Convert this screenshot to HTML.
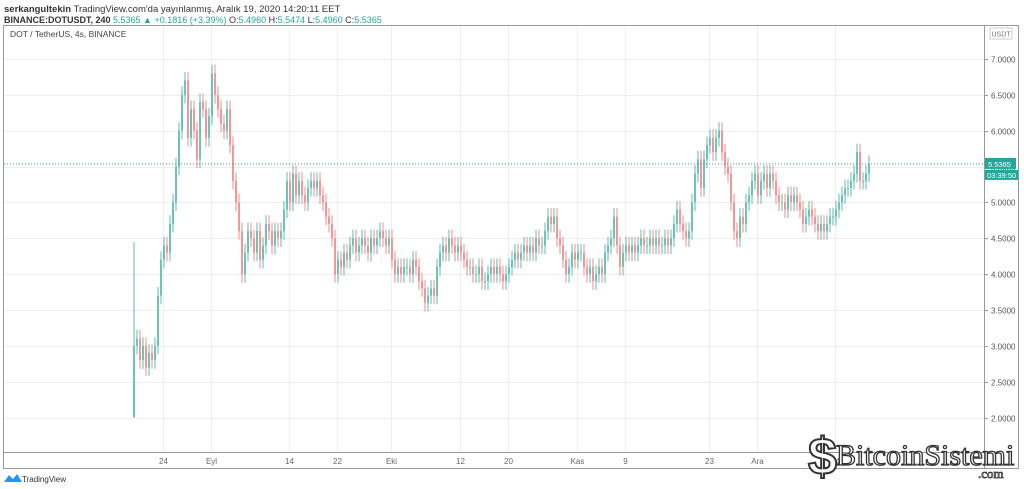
<!DOCTYPE html>
<html><head><meta charset="utf-8"><style>
body{margin:0;background:#fff;font-family:"Liberation Sans",sans-serif;}
svg{display:block}
</style></head><body>
<svg id="c" width="1024" height="489" viewBox="0 0 1024 489">
<text x="4" y="12" font-size="9.5" fill="#333"><tspan font-weight="bold">serkangultekin</tspan> TradingView.com'da yayınlanmış, Aralık 19, 2020 14:20:11 EET</text>
<text x="4" y="23" font-size="9" fill="#333"><tspan font-weight="bold">BINANCE:DOTUSDT, 240</tspan> <tspan fill="#26a69a">5.5365 ▲ +0.1816 (+3.39%)</tspan> O:<tspan fill="#26a69a">5.4960</tspan> H:<tspan fill="#26a69a">5.5474</tspan> L:<tspan fill="#26a69a">5.4960</tspan> C:<tspan fill="#26a69a">5.5365</tspan></text>
<rect x="3.5" y="25.5" width="1015" height="443" fill="#fff" stroke="#999"/>
<g id="grid"></g>
<line x1="984.5" y1="26" x2="984.5" y2="468" stroke="#999"/>
<line x1="4" y1="452.5" x2="984" y2="452.5" stroke="#999"/>
<text x="10" y="37" font-size="8.5" fill="#444">DOT / TetherUS, 4s, BINANCE</text>
<rect x="990" y="28" width="22" height="11" fill="#fff" stroke="#ccc"/>
<text x="1001" y="36.5" font-size="7" fill="#777" text-anchor="middle">USDT</text>
<g id="axes"></g>
<g id="candles"></g>
<g id="last"></g>
<g>
<path d="M4 482 L9 475 L13 479 L17 474 L22 482 Z" fill="#2196f3"/>
<text x="22" y="482" font-size="8" fill="#333">TradingView</text>
</g>
<g>
<text x="808" y="474" font-size="52" font-weight="bold" fill="#fff" stroke="#333" stroke-width="2">$</text>
<text x="836" y="465" font-size="30" fill="#fff" stroke="#333" stroke-width="1.3" font-family="Liberation Serif,serif">BitcoinSistemi</text>
<text x="978" y="478" font-size="13" fill="#fff" stroke="#333" stroke-width="0.8" font-family="Liberation Serif,serif">.com</text>
</g>
</svg>
<script>
const priceTicks=[2.0,2.5,3.0,3.5,4.0,4.5,5.0,5.5,6.0,6.5,7.0];
const timeLabels=["24","Eyl","14","22","Eki","12","20","Kas","9","23","Ara","14"];
const timeIndex=[10,26,52,68,86,109,125,148,164,192,208,234];
const closes=[3.0,3.1,2.8,3.0,2.7,2.9,2.8,3.0,3.7,4.2,4.4,4.3,4.7,5.0,5.5,6.0,6.5,6.7,5.9,6.3,6.0,5.6,6.4,6.3,5.9,6.2,6.8,6.5,6.3,6.1,6.0,6.3,5.8,5.3,5.0,4.6,4.0,4.3,
4.6,4.5,4.3,4.6,4.2,4.4,4.7,4.6,4.4,4.6,4.5,4.6,4.9,5.3,5.0,5.4,5.1,5.3,5.1,5.0,5.2,5.3,5.2,5.3,5.1,5.0,4.8,4.7,4.5,4.0,4.2,4.1,4.3,4.2,4.4,4.5,4.3,4.4,4.5,4.4,4.3,4.5,4.4,4.5,4.6,4.5,4.4,4.5,4.2,4.0,4.1,4.0,4.1,4.1,4.0,4.2,4.1,3.9,3.8,3.6,3.7,3.8,3.7,4.1,4.3,4.4,4.3,4.5,4.4,4.3,4.4,4.3,4.2,4.1,4.1,4.0,4.0,4.1,3.9,3.9,4.0,4.1,4.0,4.1,4.0,3.9,4.0,4.1,4.2,4.3,4.2,4.3,4.4,4.3,4.4,4.3,4.5,4.4,4.4,4.6,4.8,4.7,4.8,4.5,4.4,4.2,4.0,4.1,4.3,4.2,4.3,4.3,4.1,4.0,4.1,3.9,4.0,4.1,4.0,4.3,4.4,4.5,4.8,4.4,4.1,4.3,4.4,4.3,4.4,4.3,4.4,4.5,4.4,4.4,4.5,4.4,4.5,4.4,4.4,4.5,4.4,4.5,4.7,4.9,4.7,4.6,4.5,4.6,5.0,5.4,5.6,5.2,5.6,5.8,5.9,5.7,5.9,6.0,5.7,5.5,5.4,5.0,4.6,4.5,4.8,4.7,5.0,5.1,5.3,5.4,5.1,5.3,5.4,5.2,5.4,5.3,5.1,5.0,5.0,4.9,5.1,5.0,5.1,5.0,4.9,4.7,4.8,4.9,4.8,4.7,4.6,4.7,4.6,4.7,4.8,4.8,4.9,5.0,5.1,5.2,5.2,5.3,5.4,5.7,5.3,5.3,5.4,5.5365];
const firstOpen=2.0, firstHigh=4.45, firstLow=2.0, lastPrice=5.5365;
const NS="http://www.w3.org/2000/svg";
const x0=133, step=3;
function xAt(i){return x0+i*step;}
function yAt(v){return 59+(7-v)*71.7;}
function mk(tag,attrs,parent){const e=document.createElementNS(NS,tag);for(const k in attrs)e.setAttribute(k,attrs[k]);parent.appendChild(e);return e;}
const grid=document.getElementById('grid'),axes=document.getElementById('axes'),cg=document.getElementById('candles'),lg=document.getElementById('last');
priceTicks.forEach(v=>{const y=Math.round(yAt(v))+0.5;
 const l=mk('line',{x1:4,x2:984,y1:y,y2:y,stroke:'#eeeeee'},grid);
 
 
 mk('line',{x1:984,x2:988,y1:y,y2:y,stroke:'#999'},axes);
 const t=mk('text',{x:991,y:y+3,'font-size':8,fill:'#555'},axes);t.textContent=v.toFixed(4);
 
 });
timeLabels.forEach((s,k)=>{const x=Math.round(xAt(timeIndex[k]))+0.5;
 const l=mk('line',{x1:x,x2:x,y1:26,y2:452,stroke:'#eeeeee'},grid);
 
 
 const t=mk('text',{x:x,y:464,'font-size':8,fill:'#666','text-anchor':'middle'},axes);t.textContent=s;
 
 });
closes.forEach((c,i)=>{const o=i===0?firstOpen:closes[i-1];
 const up=c>=o,col=up?'#5cbdae':'#f08c8c',x=xAt(i);
 const hi=i===0?firstHigh:Math.max(o,c)+0.12,lo=i===0?firstLow:Math.min(o,c)-0.12;
 const g=mk('g',{},cg);
 
 
 mk('line',{x1:x+1,x2:x+1,y1:yAt(hi),y2:yAt(lo),stroke:col,'stroke-width':1},g);
 const top=yAt(Math.max(o,c)),bot=yAt(Math.min(o,c));
 mk('rect',{x:x+0.1,y:top,width:1.8,height:Math.max(1,bot-top),fill:col},g);});
const ly=yAt(lastPrice);
const dl=mk('line',{x1:4,x2:984,y1:ly,y2:ly,stroke:'#26a69a','stroke-dasharray':'1,2'},lg);


const b=mk('rect',{x:985,y:ly-6,width:31,height:11,fill:'#26a69a'},lg);


const bt=mk('text',{x:988,y:ly+3,'font-size':7.5,fill:'#fff'},lg);bt.textContent=lastPrice.toFixed(4);
const b2=mk('rect',{x:985,y:ly+6,width:33,height:10,fill:'#26a69a'},lg);


const bt2=mk('text',{x:987,y:ly+14,'font-size':7.5,fill:'#fff'},lg);bt2.textContent='03:39:50';
</script>
</body></html>
